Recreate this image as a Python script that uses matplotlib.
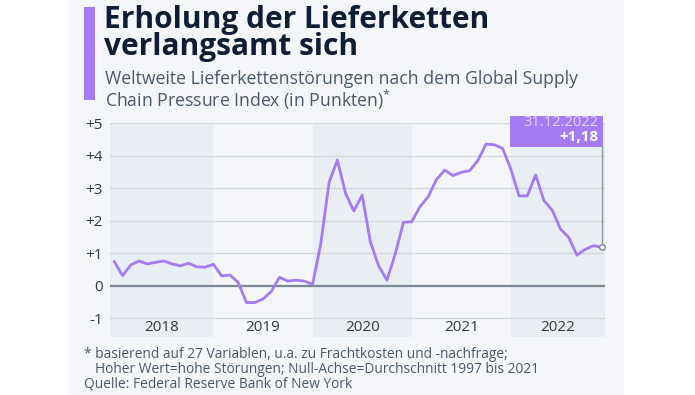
import matplotlib
matplotlib.use("Agg")
import matplotlib.pyplot as plt
from matplotlib.patches import Rectangle

# GSCPI monthly values, Jan 2018 - Dec 2022
werte = [0.74, 0.31, 0.64, 0.76, 0.67, 0.72, 0.76, 0.67, 0.61, 0.69, 0.58, 0.57,
         0.66, 0.30, 0.33, 0.10, -0.52, -0.52, -0.41, -0.18, 0.26, 0.14, 0.17, 0.14,
         0.04, 1.30, 3.18, 3.87, 2.84, 2.30, 2.79, 1.35, 0.61, 0.17, 0.97, 1.95,
         1.97, 2.43, 2.74, 3.27, 3.56, 3.39, 3.49, 3.54, 3.85, 4.36, 4.34, 4.23,
         3.59, 2.76, 2.77, 3.41, 2.62, 2.33, 1.75, 1.49, 0.94, 1.12, 1.23, 1.18]
jahre = ["2018", "2019", "2020", "2021", "2022"]
y_ticks = [5, 4, 3, 2, 1, 0, -1]
y_labels = ["+5", "+4", "+3", "+2", "+1", "0", "-1"]
letztes_datum = "31.12.2022"
letzter_wert = "+1,18"

W, H = 695, 395
BG = "#f4f6fa"
BAND = "#e9edf4"
LILA = "#a47bf4"
DUNKEL = "#0f1d35"
GRAU = "#4b586b"

plt.rcParams['font.family'] = ['Open Sans', 'DejaVu Sans']
plt.rcParams['mathtext.fontset'] = 'custom'
plt.rcParams['mathtext.rm'] = 'Open Sans'

fig = plt.figure(figsize=(W / 100, H / 100), dpi=100)
fig.patch.set_facecolor("white")

def fx(px):
    return px / W

def fy(py):
    return 1 - py / H

# card background
fig.patches.append(Rectangle((fx(67), 0), fx(624) - fx(67), 1, transform=fig.transFigure,
                             facecolor=BG, edgecolor="none", zorder=-5))
# purple bar next to title
fig.patches.append(Rectangle((fx(84), fy(100)), fx(11), 93 / H, transform=fig.transFigure,
                             facecolor=LILA, edgecolor="none", zorder=1))

fig.text(fx(104), fy(28), "Erholung der Lieferketten", fontsize=21.5, fontweight="bold",
         color=DUNKEL, va="baseline")
fig.text(fx(104), fy(55), "verlangsamt sich", fontsize=21.5, fontweight="bold",
         color=DUNKEL, va="baseline")
fig.text(fx(105), fy(70), "Weltweite Lieferkettenstörungen nach dem Global Supply\n"
         r"Chain Pressure Index (in Punkten)$^{\mathrm{*}}$",
         fontsize=12.7, color=GRAU, va="top", linespacing=1.0)

fig.text(fx(84), fy(358), "* basierend auf 27 Variablen, u.a. zu Frachtkosten und -nachfrage;",
         fontsize=9.9, color=GRAU, va="baseline")
fig.text(fx(95), fy(373), "Hoher Wert=hohe Störungen; Null-Achse=Durchschnitt 1997 bis 2021",
         fontsize=9.9, color=GRAU, va="baseline")
fig.text(fx(84), fy(388), "Quelle: Federal Reserve Bank of New York",
         fontsize=9.9, color=GRAU, va="baseline")

ax = fig.add_axes([fx(110), fy(337), fx(605) - fx(110), (337 - 123.3) / H])
ax.set_facecolor(BG)
for s in ax.spines.values():
    s.set_visible(False)

x = list(range(len(werte)))
x0, x1 = -0.52, len(werte) - 0.6
ax.set_xlim(x0, x1)
ax.set_ylim(-1.58, 5)

for i, j in enumerate(jahre):
    a = x0 if i == 0 else 12 * i
    b = min(12 * i + 12, x1)
    if i % 2 == 0:
        ax.axvspan(a, b, color=BAND, lw=0, zorder=0)
    ax.text((a + b) / 2, -1.29, j, ha="center", va="center", fontsize=11, color="#333a45")

for t in y_ticks:
    if t == 0:
        ax.axhline(t, color="#7d8794", lw=1.6, zorder=1)
    else:
        ax.axhline(t, color="#d3d8df", lw=1, zorder=1)

ax.set_yticks(y_ticks)
ax.set_yticklabels(y_labels, fontsize=11, color="#333a45")
ax.tick_params(axis="y", length=0, pad=5)
ax.set_xticks([])

ax.plot(x, werte, color=LILA, lw=2, zorder=3, solid_joinstyle="round")

# end annotation
xl, yl = x[-1], werte[-1]
ax.plot([xl, xl], [yl, 4.28], color="#8e96a2", lw=1, zorder=2)
ax.plot([xl], [yl], marker="o", ms=4, mfc="white", mec="#7d8794", mew=1, zorder=4)
ax.add_patch(Rectangle((xl - 11.1, 4.28), 11.25, 0.96, facecolor=LILA, edgecolor="none",
                       clip_on=False, zorder=5))
ax.text(xl - 0.4, 5.02, letztes_datum, ha="right", va="center", fontsize=10.5,
        color="white", alpha=0.7, zorder=6, clip_on=False)
ax.text(xl - 0.4, 4.58, letzter_wert, ha="right", va="center", fontsize=11,
        fontweight="bold", color="white", zorder=6, clip_on=False)

fig.savefig("out.png", dpi=100, facecolor="white")
